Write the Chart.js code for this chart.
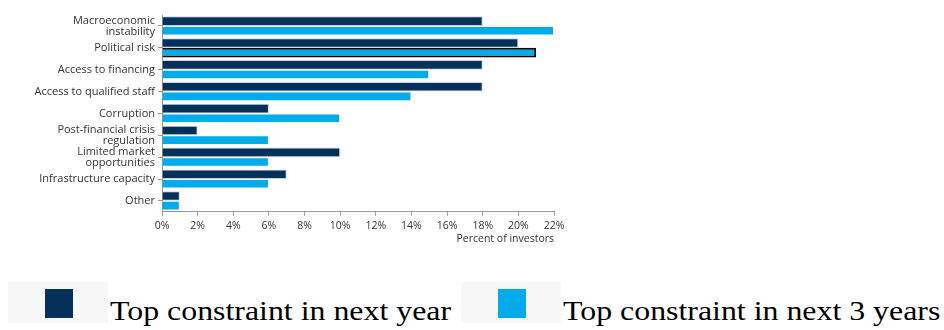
<!DOCTYPE html>
<html>
<head>
<meta charset="utf-8">
<script src="https://cdn.jsdelivr.net/npm/chart.js@4"></script>
<style>
  body { margin: 0; background: #fff; width: 944px; height: 330px; overflow: hidden; position: relative; }
  #wrap { position: absolute; left: 0; top: 0; width: 600px; height: 245px; }
  .leg { position: absolute; top: 282px; height: 41px; font-family: "Liberation Serif", "Times New Roman", serif; font-size: 27px; color: #000; }
  .leg .bg { position: absolute; left: 0; top: 0; width: 100px; height: 41px; background: #f7f7f7; }
  .leg .sw { position: absolute; left: 37px; top: 7px; width: 28px; height: 29px; }
  .leg .tx { position: absolute; left: 102px; top: 14px; white-space: nowrap; line-height: 30px; transform: scaleX(1.18); transform-origin: left center; }
</style>
</head>
<body>
<div id="wrap"><canvas id="constraints"></canvas></div>
<div class="leg" style="left:8px"><div class="bg"></div><div class="sw" style="background:#04305a"></div><div class="tx">Top constraint in next year</div></div>
<div class="leg" style="left:461px"><div class="bg"></div><div class="sw" style="background:#02abe9"></div><div class="tx">Top constraint in next 3 years</div></div>
<script>
const categories = [
  ['Macroeconomic', 'instability'],
  'Political risk',
  'Access to financing',
  'Access to qualified staff',
  'Corruption',
  ['Post-financial crisis', 'regulation'],
  ['Limited market', 'opportunities'],
  'Infrastructure capacity',
  'Other'
];
const nextYear = [18, 20, 18, 18, 6, 2, 10, 7, 1];
const next3Years = [22, 21, 15, 14, 10, 6, 6, 6, 1];
const xTicks = [0, 2, 4, 6, 8, 10, 12, 14, 16, 18, 20, 22];

// political risk (3 years) is outlined in the original
const highlight = 1;

const ctx = document.getElementById('constraints').getContext('2d');
const chart = new Chart(ctx, {
  type: 'bar',
  data: {
    labels: categories,
    datasets: [
      {
        label: 'Top constraint in next year',
        data: nextYear,
        backgroundColor: '#04305a',
        borderColor: 'rgba(160,185,210,0.6)',
        borderWidth: 1,
        categoryPercentage: 0.88,
        barPercentage: 1.0
      },
      {
        label: 'Top constraint in next 3 years',
        data: next3Years,
        backgroundColor: '#02abe9',
        borderColor: next3Years.map((v, i) => i === highlight ? '#000' : 'rgba(255,255,255,0.4)'),
        borderWidth: next3Years.map((v, i) => i === highlight ? 2 : 1),
        categoryPercentage: 0.88,
        barPercentage: 1.0
      }
    ]
  },
  options: {
    indexAxis: 'y',
    responsive: true,
    maintainAspectRatio: false,
    animation: false,
    layout: { padding: { top: 15, right: 46, left: 0, bottom: 0 } },
    scales: {
      x: {
        min: 0,
        max: 22,
        afterBuildTicks: (scale) => { scale.ticks = xTicks.map(v => ({ value: v })); },
        ticks: {
          callback: (v) => v + '%',
          color: '#333',
          font: { family: 'Open Sans', size: 10.5 },
          padding: 4,
          maxRotation: 0,
          autoSkip: false
        },
        grid: { drawOnChartArea: false, color: '#999', tickLength: 4 },
        border: { color: '#999' },
        title: {
          display: true,
          text: 'Percent of investors',
          align: 'end',
          color: '#333',
          font: { family: 'Open Sans', size: 10.5 },
          padding: { top: -4, bottom: 0 }
        }
      },
      y: {
        afterFit: (scale) => { scale.width = 162; },
        ticks: {
          color: '#333',
          font: { family: 'Open Sans', size: 11, lineHeight: 1.0 },
          padding: 3,
          autoSkip: false
        },
        grid: { drawOnChartArea: false, color: '#999', tickLength: 4, offset: false },
        border: { color: '#999' }
      }
    },
    plugins: {
      legend: { display: false },
      tooltip: { enabled: false }
    }
  }
});
</script>
</body>
</html>
